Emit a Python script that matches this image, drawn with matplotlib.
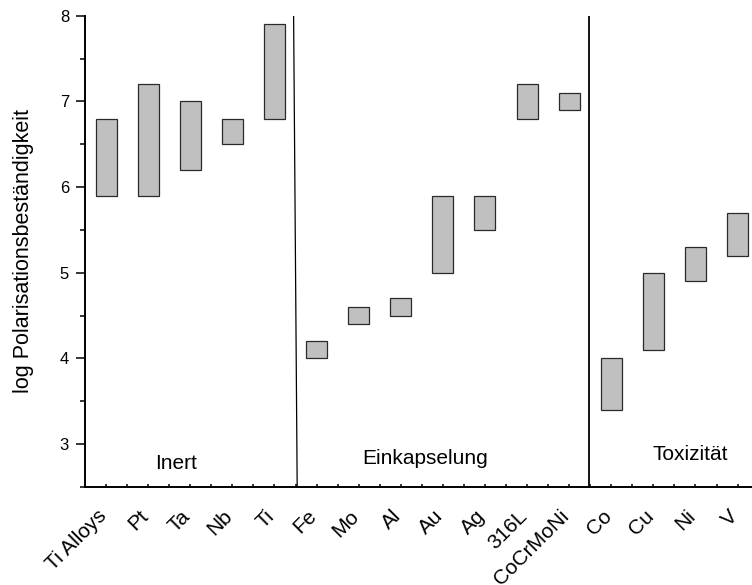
import matplotlib
matplotlib.use("Agg")
import matplotlib.pyplot as plt
import matplotlib.transforms as mtransforms
from matplotlib.ticker import MultipleLocator

plt.rcParams['font.family'] = ['Liberation Sans', 'DejaVu Sans']

# Metals and their range of log polarisation resistance
metals = ["Ti Alloys", "Pt", "Ta", "Nb", "Ti",
          "Fe", "Mo", "Al", "Au", "Ag", "316L", "CoCrMoNi",
          "Co", "Cu", "Ni", "V"]
low = [5.9, 5.9, 6.2, 6.5, 6.8,
       4.0, 4.4, 4.5, 5.0, 5.5, 6.8, 6.9,
       3.4, 4.1, 4.9, 5.2]
high = [6.8, 7.2, 7.0, 6.8, 7.9,
        4.2, 4.6, 4.7, 5.9, 5.9, 7.2, 7.1,
        4.0, 5.0, 5.3, 5.7]

groups = ["Inert", "Einkapselung", "Toxizität"]
group_x = [1.66, 7.57, 13.88]
group_y = [2.71, 2.77, 2.81]

fig = plt.figure(figsize=(7.52, 5.85), dpi=100)
ax = fig.add_axes([85 / 752, 98 / 585, 673.6 / 752, 471.3 / 585])

x = list(range(len(metals)))
heights = [h - l for h, l in zip(high, low)]
ax.bar(x, heights, bottom=low, width=0.5, color="#c0c0c0",
       edgecolor="#2a2a2a", linewidth=0.9, zorder=3)

# group separators
ax.plot([4.455, 4.54], [8, 2.5], color="black", lw=0.9, zorder=2)
ax.plot([11.48, 11.48], [8, 2.5], color="black", lw=1.3, zorder=2)

for name, gx, gy in zip(groups, group_x, group_y):
    ax.text(gx, gy, name, ha="center", va="baseline", fontsize=15)

ax.set_xlim(-0.5, 15.5)
ax.set_ylim(2.5, 8)

ax.spines["top"].set_visible(False)
ax.spines["right"].set_visible(False)
ax.spines["left"].set_linewidth(1.4)
ax.spines["bottom"].set_linewidth(1.4)

ax.set_yticks([3, 4, 5, 6, 7, 8])
ax.yaxis.set_minor_locator(MultipleLocator(0.5))
ax.tick_params(axis="y", which="major", direction="out", length=6.5,
               width=1.1, labelsize=12, pad=5)
ax.tick_params(axis="y", which="minor", direction="out", length=3.6,
               width=1.1)

ax.set_xticks(x)
ax.set_xticklabels(metals, rotation=45, ha="right", fontsize=15)
ax.xaxis.set_minor_locator(MultipleLocator(0.5))
ax.tick_params(axis="x", which="both", direction="in", length=2.5,
               width=1.1, pad=14)
shift = mtransforms.ScaledTranslation(4 / 100, 0, fig.dpi_scale_trans)
for lbl in ax.get_xticklabels():
    lbl.set_transform(lbl.get_transform() + shift)

ax.set_ylabel("log Polarisationsbeständigkeit", fontsize=15.5, va="center")
ax.yaxis.set_label_coords(-0.092, 0.5)

fig.savefig("out.png", dpi=100)
